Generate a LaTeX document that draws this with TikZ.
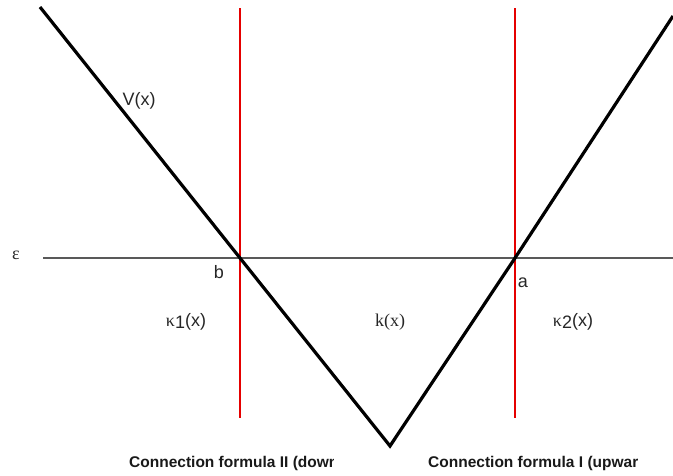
\documentclass[tikz,border=0pt]{standalone}
\usepackage{fontspec}
\setmainfont{Liberation Sans}
\newfontfamily\serifk{Liberation Serif}
\begin{document}
\begin{tikzpicture}[x=1pt,y=-1pt,
  pot/.style={line width=3.2pt,black},
  redline/.style={line width=2pt,red!90!black},
  level/.style={line width=1.2pt,gray!70!black},
  lbl/.style={inner sep=0pt,font=\fontsize{18}{20}\selectfont,text=black!85},
  foot/.style={inner sep=0pt,anchor=base west,font=\fontsize{15.5}{17}\selectfont\bfseries,text=black!90}]
\useasboundingbox (0,0) rectangle (673,475);
\coordinate (ltop) at (40,7);
\coordinate (b) at (240,258);
\coordinate (bot) at (390,446);
\coordinate (a) at (515,258);
\coordinate (rtop) at (673,16);
\coordinate (hl) at (43,258);
\coordinate (hr) at (673,258);
\coordinate (rbt) at (240,8);
\coordinate (rbb) at (240,418);
\coordinate (rat) at (515,8);
\coordinate (rab) at (515,418);
\draw[level] (hl) -- (hr);
\draw[redline] (rbt) -- (rbb);
\draw[redline] (rat) -- (rab);
\draw[pot,line join=miter] (ltop) -- (b) -- (bot) -- (a) -- (rtop);
\node[lbl] (eps) at (16,255) {\serifk ε};
\node[lbl] (bl) at (219,272) {b};
\node[lbl] (al) at (523,283) {a};
\node[lbl] (vx) at (139,101) {V(x)};
\node[lbl] (k1) at (186,322) {{\serifk κ}\raisebox{-2pt}{1}(x)};
\node[lbl] (kk) at (390,322) {\serifk k(x)};
\node[lbl] (k2) at (573,322) {{\serifk κ}\raisebox{-2pt}{2}(x)};
\begin{scope}
\clip (120,448) rectangle (333,475);
\node[foot] (f1) at (129,467) {Connection formula II (downward)};
\end{scope}
\begin{scope}
\clip (420,448) rectangle (637,475);
\node[foot] (f2) at (428,467) {Connection formula I (upward)};
\end{scope}
\end{tikzpicture}
\end{document}
